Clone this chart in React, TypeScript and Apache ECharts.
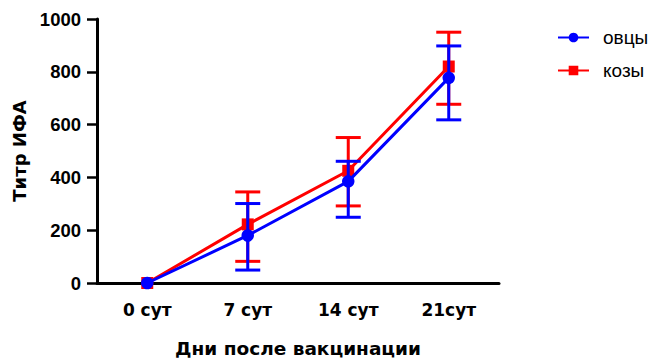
import React, { useEffect, useRef } from "react";
import * as echarts from "echarts";

// Days after vaccination and ELISA titres (mean with lower / upper error bounds)
const categories = ["0 сут", "7 сут", "14 сут", "21сут"];

const sheepName = "овцы";
const sheepMean = [0, 180, 385, 777];
const sheepLow = [0, 49, 249, 618];
const sheepHigh = [0, 301, 461, 898];

const goatName = "козы";
const goatMean = [0, 222, 425, 820];
const goatLow = [0, 82, 292, 677];
const goatHigh = [0, 345, 551, 950];

const yTicks = { min: 0, max: 1000, interval: 200 };

const BLUE = "#0000ff";
const RED = "#ff0000";
const FONT = "'Liberation Sans', Arial, sans-serif";
const WIDE = "'DejaVu Sans', 'Liberation Sans', sans-serif";

function errorSeries(name: string, low: number[], high: number[], color: string, z: number) {
  return {
    name,
    type: "custom",
    z,
    silent: true,
    data: low.map((lo, i) => [i, lo, high[i]]),
    renderItem: (_params: any, api: any) => {
      const idx = api.value(0);
      const lo = api.value(1);
      const hi = api.value(2);
      if (!(hi > lo)) return { type: "group", children: [] };
      const pLo = api.coord([idx, lo]);
      const pHi = api.coord([idx, hi]);
      const hw = 12.5;
      const style = { stroke: color, lineWidth: 3 };
      return {
        type: "group",
        children: [
          { type: "line", shape: { x1: pHi[0], y1: pHi[1], x2: pLo[0], y2: pLo[1] }, style },
          { type: "line", shape: { x1: pHi[0] - hw, y1: pHi[1], x2: pHi[0] + hw, y2: pHi[1] }, style },
          { type: "line", shape: { x1: pLo[0] - hw, y1: pLo[1], x2: pLo[0] + hw, y2: pLo[1] }, style },
        ],
      };
    },
  };
}

export default function App() {
  const ref = useRef<HTMLDivElement>(null);

  useEffect(() => {
    if (!ref.current) return;
    const chart = echarts.init(ref.current, undefined, { renderer: "svg" });
    chart.setOption({
      animation: false,
      backgroundColor: "#ffffff",
      textStyle: { fontFamily: FONT },
      grid: { left: 97, right: 158, top: 19, bottom: 78 },
      legend: {
        orient: "vertical",
        left: 557,
        top: 28,
        padding: 0,
        itemWidth: 31,
        itemHeight: 12,
        itemGap: 14,
        data: [sheepName, goatName],
        textStyle: { fontFamily: FONT, fontSize: 19, color: "#000", padding: [0, 0, 0, 9] },
      },
      xAxis: {
        type: "category",
        data: categories,
        boundaryGap: true,
        name: "Дни после вакцинации",
        nameLocation: "middle",
        nameGap: 56,
        nameTextStyle: { fontFamily: WIDE, fontSize: 18.5, fontWeight: "bold", color: "#000" },
        axisLine: { lineStyle: { color: "#000", width: 3 } },
        axisTick: { alignWithLabel: true, length: 10, lineStyle: { color: "#000", width: 2.5 } },
        axisLabel: { margin: 18, fontFamily: WIDE, fontSize: 17, fontWeight: "bold", color: "#000" },
      },
      yAxis: {
        type: "value",
        min: yTicks.min,
        max: yTicks.max,
        interval: yTicks.interval,
        name: "Титр ИФА",
        nameLocation: "middle",
        nameGap: 66,
        nameTextStyle: { fontFamily: WIDE, fontSize: 18, fontWeight: "bold", color: "#000" },
        splitLine: { show: false },
        axisLine: { show: true, lineStyle: { color: "#000", width: 3 } },
        axisTick: { show: true, length: 10, lineStyle: { color: "#000", width: 2.5 } },
        axisLabel: {
          margin: 16,
          fontFamily: FONT,
          fontSize: 18.5,
          fontWeight: "bold",
          color: "#000",
          formatter: (v: number) => String(v),
        },
      },
      series: [
        {
          name: goatName,
          type: "line",
          z: 2,
          data: goatMean,
          symbol: "rect",
          symbolSize: 12,
          color: RED,
          lineStyle: { color: RED, width: 3 },
          itemStyle: { color: RED },
        },
        errorSeries(goatName, goatLow, goatHigh, RED, 3),
        {
          name: sheepName,
          type: "line",
          z: 4,
          data: sheepMean,
          symbol: "circle",
          symbolSize: 12.5,
          color: BLUE,
          lineStyle: { color: BLUE, width: 3 },
          itemStyle: { color: BLUE },
        },
        errorSeries(sheepName, sheepLow, sheepHigh, BLUE, 5),
      ],
    });
    return () => chart.dispose();
  }, []);

  return (
    <div
      ref={ref}
      style={{ position: "fixed", left: 0, top: 0, width: 657, height: 363 }}
    />
  );
}
